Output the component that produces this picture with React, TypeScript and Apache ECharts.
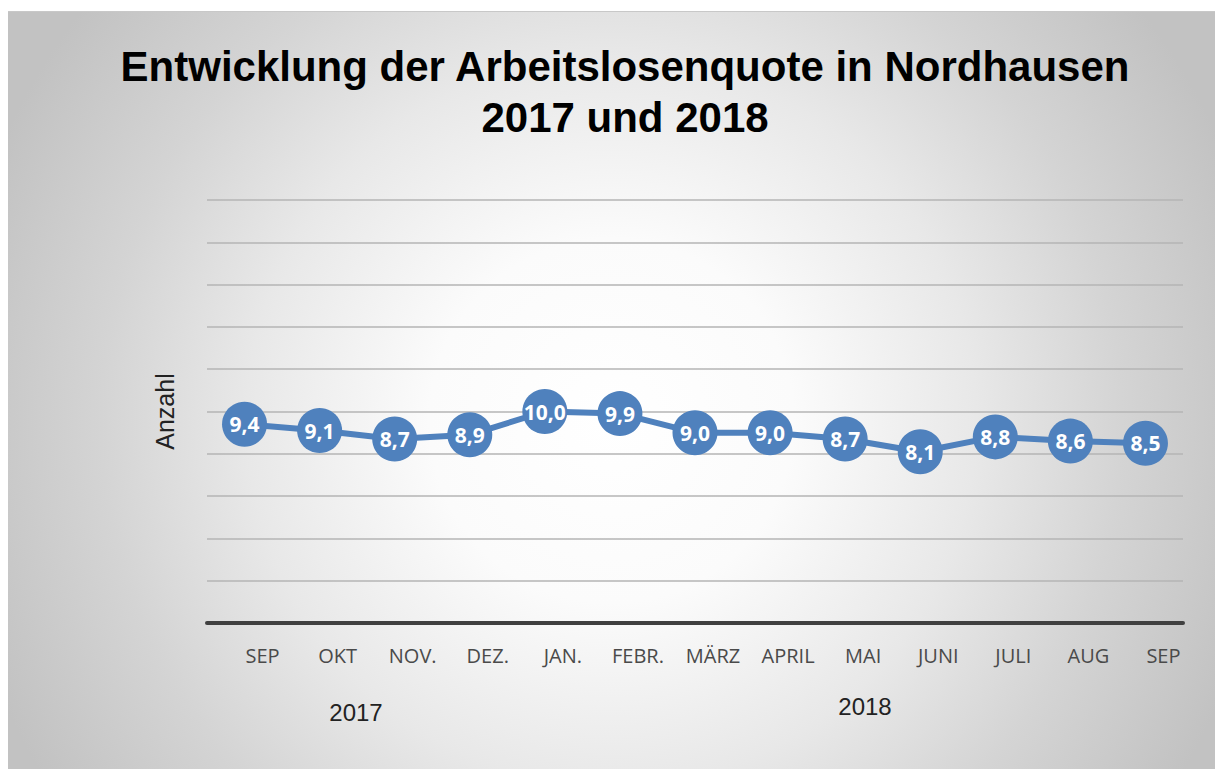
import React, { useEffect, useRef } from "react";
import * as echarts from "echarts";

const months = ["SEP", "OKT", "NOV.", "DEZ.", "JAN.", "FEBR.", "MÄRZ", "APRIL", "MAI", "JUNI", "JULI", "AUG", "SEP"];
const rates = [9.4, 9.1, 8.7, 8.9, 10.0, 9.9, 9.0, 9.0, 8.7, 8.1, 8.8, 8.6, 8.5];
const years = ["2017", "2018"];
const titleLines = ["Entwicklung der Arbeitslosenquote in Nordhausen", "2017 und 2018"];
const yAxisName = "Anzahl";

export default function App() {
  const ref = useRef<HTMLDivElement>(null);
  useEffect(() => {
    if (!ref.current) return;
    const chart = echarts.init(ref.current, null, { renderer: "svg" });
    chart.setOption({
      animation: false,
      backgroundColor: "transparent",
      title: {
        text: titleLines.join("\n"),
        left: 620,
        textAlign: "center",
        top: 36,
        textStyle: {
          fontFamily: "Liberation Sans",
          fontWeight: "bold",
          fontSize: 42,
          lineHeight: 51,
          color: "#000",
        },
      },
      grid: { left: 207, right: 32, top: 200, bottom: 146, containLabel: false },
      xAxis: {
        type: "category",
        data: months,
        boundaryGap: true,
        axisTick: { show: false },
        axisLine: { lineStyle: { color: "#404040", width: 4 } },
        axisLabel: {
          color: "#4a4a4a",
          fontFamily: "Open Sans",
          fontSize: 20,
          lineHeight: 22,
          margin: 21,
          padding: [0, 0, 0, 36],
          interval: 0,
        },
      },
      yAxis: {
        type: "value",
        min: 0,
        max: 20,
        interval: 2,
        name: yAxisName,
        nameLocation: "middle",
        nameRotate: 90,
        nameGap: 30,
        nameTextStyle: { fontFamily: "Liberation Sans", fontSize: 25, color: "#222" },
        axisLabel: { show: false },
        axisTick: { show: false },
        axisLine: { show: false },
        splitLine: { lineStyle: { color: "#b4b4b4", width: 1.5 } },
      },
      series: [
        {
          type: "line",
          data: rates,
          symbol: "circle",
          symbolSize: 45,
          itemStyle: { color: "#4F81BD" },
          lineStyle: { color: "#4F81BD", width: 6 },
          label: {
            show: true,
            position: "inside",
            color: "#fff",
            fontFamily: "Open Sans",
            fontWeight: "bold",
            fontSize: 21,
            formatter: (p: any) => Number(p.value).toFixed(1).replace(".", ","),
          },
        },
      ],
      graphic: [
        {
          type: "text",
          x: 356,
          y: 712,
          style: {
            text: years[0],
            fontFamily: "Liberation Sans",
            fontSize: 24,
            fill: "#222",
            align: "center",
            verticalAlign: "middle",
          },
        },
        {
          type: "text",
          x: 865,
          y: 706,
          style: {
            text: years[1],
            fontFamily: "Liberation Sans",
            fontSize: 24,
            fill: "#222",
            align: "center",
            verticalAlign: "middle",
          },
        },
      ],
    });
    return () => chart.dispose();
  }, []);

  return (
    <div style={{ position: "fixed", left: 0, top: 0, width: 1215, height: 769, background: "#fff" }}>
      <div
        style={{
          position: "absolute",
          left: 8,
          top: 11,
          width: 1207,
          height: 758,
          borderTop: "1px solid #c8c8c8",
          boxSizing: "border-box",
          background:
            "radial-gradient(circle at 50% 54%, #ffffff 0%, #fbfbfb 25%, #e8e8e8 50%, #d4d4d4 70%, #c2c2c2 92%)",
        }}
      />
      <div ref={ref} style={{ position: "absolute", left: 0, top: 0, width: 1215, height: 769 }} />
    </div>
  );
}
